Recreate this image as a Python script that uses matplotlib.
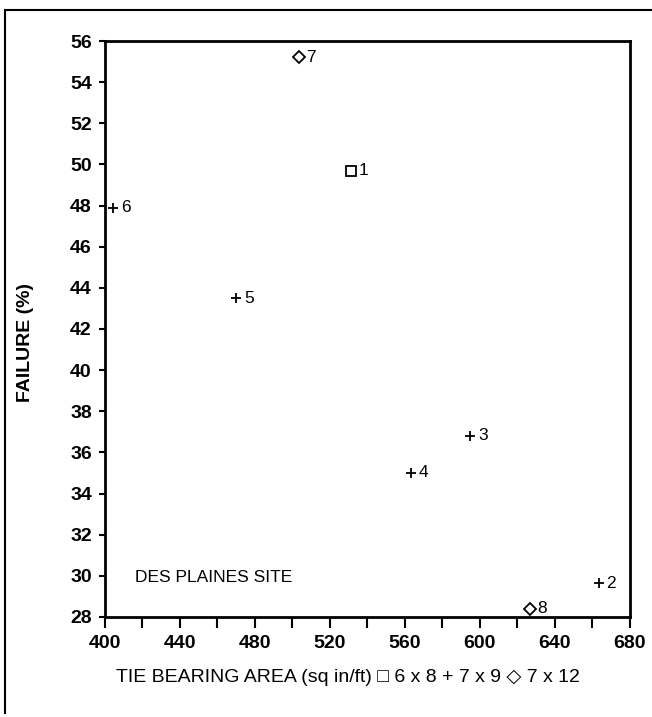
"""
Tie bearing area vs failure, Des Plaines site
"""

import matplotlib
matplotlib.use("Agg")
import matplotlib.pyplot as plt
from matplotlib.lines import Line2D
from matplotlib.ticker import MultipleLocator

plt.rcParams['font.family'] = ['Liberation Sans', 'DejaVu Sans']

# Data
tie_ids = ["1", "2", "3", "4", "5", "6", "7", "8"]
bearing_area = [531, 663.5, 595, 563, 470, 404.5, 503.5, 626.5]   # sq in/ft
failure_pct = [49.7, 29.65, 36.8, 35.0, 43.5, 47.9, 55.2, 28.4]   # %
tie_size = ["6x8", "7x9", "7x9", "7x9", "7x9", "7x9", "7x12", "7x12"]

markers = {"6x8": "s", "7x9": "+", "7x12": "D"}
msizes = {"6x8": 7.5, "7x9": 7, "7x12": 6}

fig = plt.figure(figsize=(6.52, 7.17), dpi=100)
ax = fig.add_axes([0.161, 0.1395, 0.805, 0.8033])

for name, x, y, s in zip(tie_ids, bearing_area, failure_pct, tie_size):
    ax.plot(x, y, marker=markers[s], ms=msizes[s], mfc='white', mec='black',
            mew=1.3, ls='none', clip_on=False, zorder=5)
    ax.annotate(name, (x, y), xytext=(5.5, 0), textcoords='offset points',
                ha='left', va='center', fontsize=12.5)

ax.set_xlim(400, 680)
ax.set_ylim(28, 56)
ax.xaxis.set_major_locator(MultipleLocator(40))
ax.xaxis.set_minor_locator(MultipleLocator(20))
ax.yaxis.set_major_locator(MultipleLocator(2))

for sp in ax.spines.values():
    sp.set_linewidth(2)

ax.tick_params(axis='x', which='both', direction='out', length=8, width=1.5,
               labelsize=14, pad=5)
ax.tick_params(axis='y', direction='out', length=4, width=1.5,
               labelsize=14, pad=5.5)
for lbl in ax.get_xticklabels() + ax.get_yticklabels():
    lbl.set_fontweight('bold')

ax.set_ylabel("FAILURE (%)", fontsize=14, fontweight='bold')
ax.yaxis.set_label_coords(-0.135, 0.476)
ax.set_xlabel("TIE BEARING AREA (sq in/ft) \u25a1 6 x 8 + 7 x 9 \u25c7 7 x 12",
              fontsize=14)
ax.xaxis.set_label_coords(0.463, -0.09)

ax.text(416, 29.9, "DES PLAINES SITE", fontsize=12.5, ha='left', va='center')

# scanned page frame
fig.add_artist(Line2D([0.0077, 1.0], [0.986, 0.986], color='black', lw=1.5,
                      transform=fig.transFigure))
fig.add_artist(Line2D([0.0077, 0.0077], [0.006, 0.986], color='black', lw=1.5,
                      transform=fig.transFigure))

fig.savefig("out.png", dpi=100)
